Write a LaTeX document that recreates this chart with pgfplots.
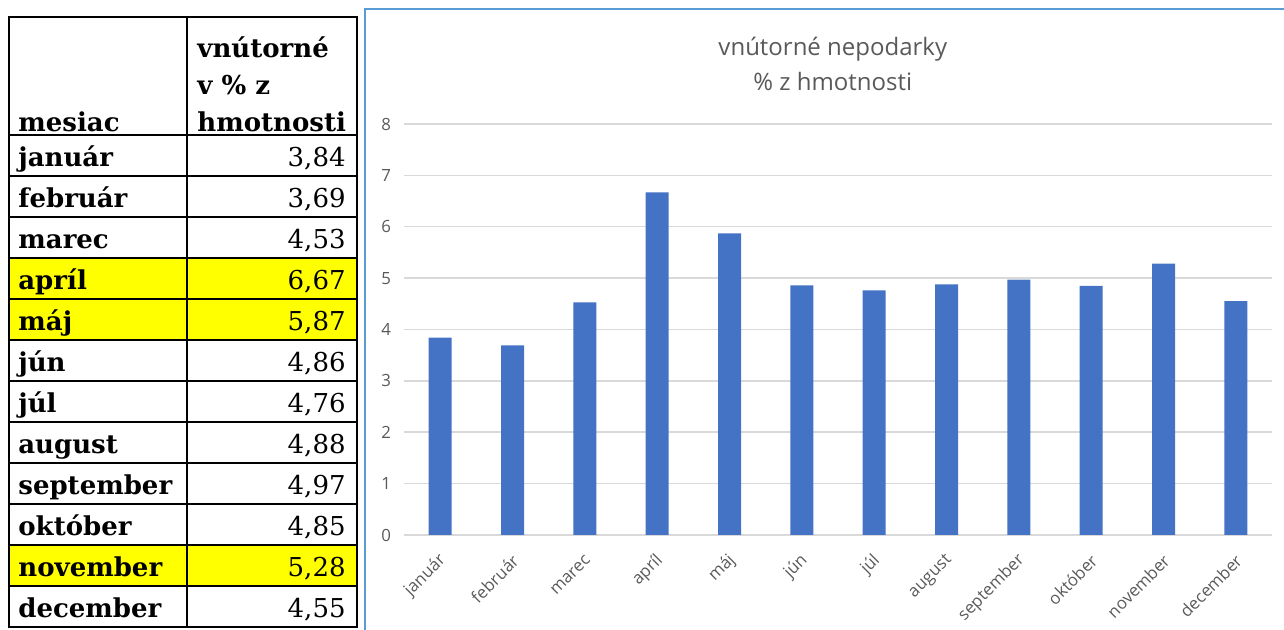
\documentclass[border=0pt]{standalone}
\usepackage{pgfplots}
\pgfplotsset{compat=1.18}
\usepackage{fontspec}
\setmainfont{Open Sans}
\newfontfamily\tabfont{DejaVu Serif}
\definecolor{barblue}{HTML}{4472C4}
\definecolor{gridgray}{HTML}{D9D9D9}
\definecolor{txtgray}{HTML}{595959}
\definecolor{frameblue}{HTML}{5B9BD5}
\definecolor{hl}{HTML}{FFFF00}
\begin{document}
\begin{tikzpicture}
\path[use as bounding box] (0,0) rectangle (642pt,315pt);
% highlighted rows
\foreach \i in {4,5,11} {
  \fill[hl] (4.5pt,{(247.5-(\i-1)*20.5)*1pt}) rectangle (178.5pt,{(247.5-\i*20.5)*1pt});
}
% table grid
\draw[line width=1.2pt] (4.5pt,306.5pt) rectangle (178.5pt,1.5pt);
\draw[line width=1.2pt] (93.5pt,306.5pt) -- (93.5pt,1.5pt);
\foreach \i in {0,...,11} {
  \draw[line width=1.2pt] (4.5pt,{(247.5-\i*20.5)*1pt}) -- (178.5pt,{(247.5-\i*20.5)*1pt});
}
% header
\begin{scope}[every node/.style={inner sep=0pt, font=\tabfont\bfseries\fontsize{13pt}{15pt}\selectfont}]
\node[anchor=base west] at (9pt,249pt) {mesiac};
\node[anchor=base west] at (98.5pt,286pt) {vnútorné};
\node[anchor=base west] at (98.5pt,267.5pt) {v \% z};
\node[anchor=base west] at (98.5pt,249pt) {hmotnosti};
\foreach \n [count=\i] in {január,február,marec,apríl,máj,jún,júl,august,september,október,november,december} {
  \node[anchor=base west] at (9pt,{(247.5-\i*20.5+4.5)*1pt}) {\n};
}
\end{scope}
\begin{scope}[every node/.style={inner sep=0pt, font=\tabfont\fontsize{13pt}{15pt}\selectfont}]
\foreach \v [count=\i] in {3{,}84,3{,}69,4{,}53,6{,}67,5{,}87,4{,}86,4{,}76,4{,}88,4{,}97,4{,}85,5{,}28,4{,}55} {
  \node[anchor=base east] at (173pt,{(247.5-\i*20.5+4.5)*1pt}) {\v};
}
\end{scope}
% chart frame
\draw[frameblue, line width=0.9pt] (182.5pt,0pt) -- (182.5pt,310.5pt) -- (650pt,310.5pt);
\begin{axis}[
  at={(202pt,47.5pt)}, anchor=south west,
  scale only axis, width=434pt, height=205.5pt,
  xmin=-0.5, xmax=11.5, ymin=0, ymax=8,
  ybar, bar width=11.5pt,
  xtick={0,...,11},
  xticklabels={január,február,marec,apríl,máj,jún,júl,august,september,október,november,december},
  ytick={0,...,8},
  ymajorgrids, grid style={gridgray, line width=0.75pt},
  axis line style={draw=none},
  major tick length=0pt,
  tick label style={font=\fontsize{8.4}{10}\selectfont, text=txtgray},
  /pgf/number format/assume math mode=true,
  xticklabel style={anchor=east, xshift=4pt, yshift=-9pt, rotate=45},
  yticklabel style={xshift=-3pt},
  title={vnútorné nepodarky\\\% z hmotnosti},
  title style={at={(0.494,1.116)}, anchor=center, align=center, font=\fontsize{12}{17.5}\selectfont, text=txtgray},
]
\addplot[fill=barblue, draw=none] coordinates {(0,3.84) (1,3.69) (2,4.53) (3,6.67) (4,5.87) (5,4.86) (6,4.76) (7,4.88) (8,4.97) (9,4.85) (10,5.28) (11,4.55)};
\end{axis}
\end{tikzpicture}
\end{document}
